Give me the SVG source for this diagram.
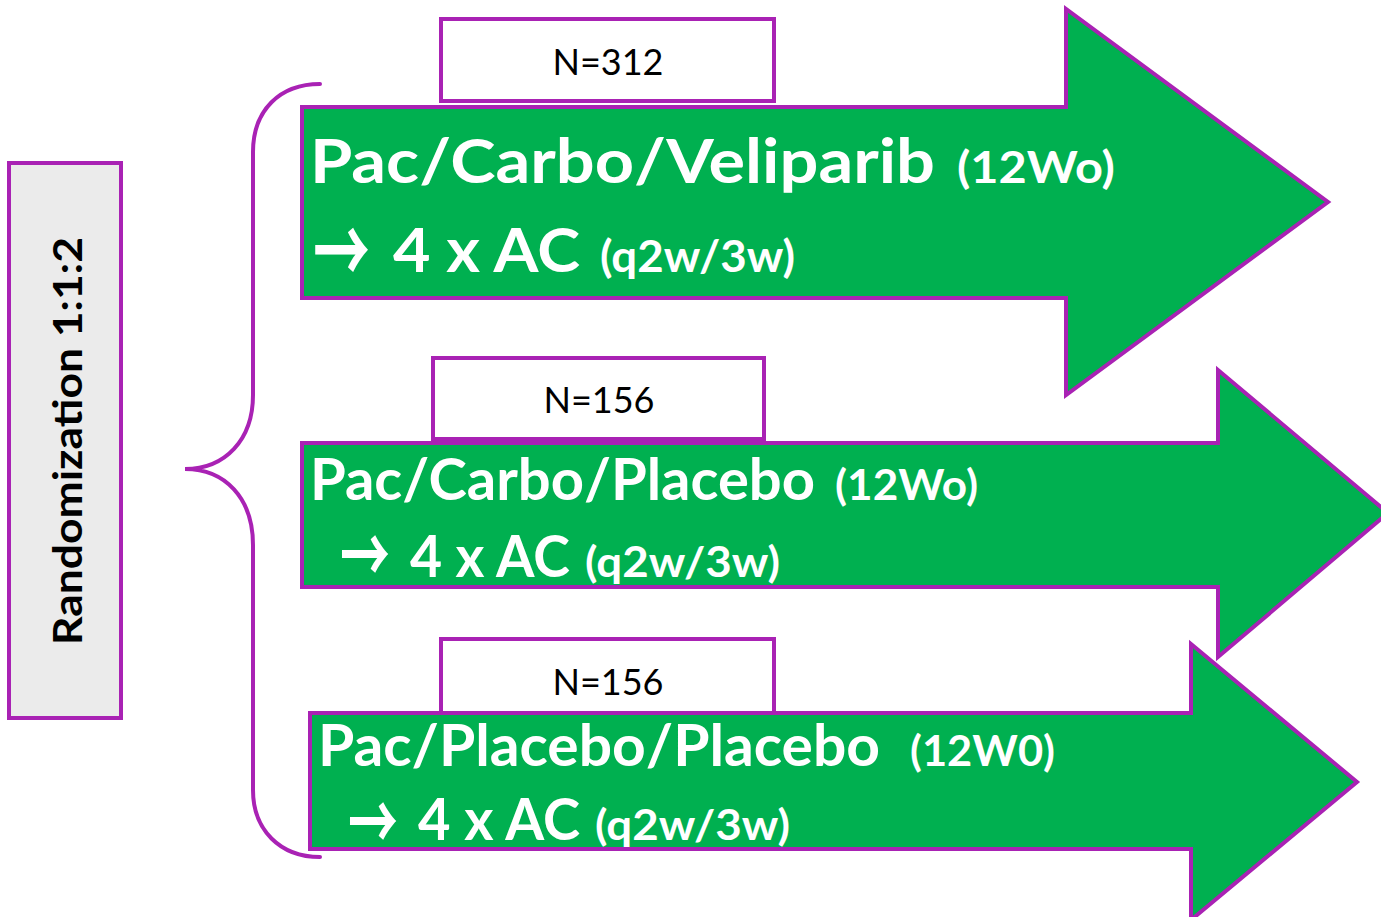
<svg xmlns="http://www.w3.org/2000/svg" width="1381" height="917" viewBox="0 0 1381 917">
  <style>
    .arm { fill: #00B050; stroke: #A922B4; stroke-width: 4; stroke-linejoin: miter; }
    .count { fill: #FFFFFF; stroke: #A922B4; stroke-width: 4; }
    .rand { fill: #EBEBEB; stroke: #A922B4; stroke-width: 4; }
    .brace { fill: none; stroke: #A922B4; stroke-width: 4; stroke-linecap: round; }
    .big { font-family: Lato, "Liberation Sans", sans-serif; font-weight: 700; fill: #FFFFFF; }
    .small { font-family: Lato, "Liberation Sans", sans-serif; font-weight: 700; fill: #FFFFFF; }
    .arrowglyph { font-family: "Noto Sans CJK SC", "DejaVu Sans", sans-serif; font-weight: 700; fill: #FFFFFF; }
    .n { font-family: Lato, "Liberation Sans", sans-serif; font-weight: 400; fill: #000000; font-size: 36px; }
    .rtext { font-family: Lato, "Liberation Sans", sans-serif; font-weight: 700; fill: #000000; font-size: 40px; }
  </style>

  <!-- randomization label -->
  <g id="randomization">
    <rect class="rand" x="9" y="163" width="112" height="555"/>
    <text class="rtext" transform="translate(82,441) rotate(-90)" text-anchor="middle" textLength="408" lengthAdjust="spacingAndGlyphs">Randomization 1:1:2</text>
  </g>

  <!-- brace joining the three arms -->
  <g id="connectors">
    <path class="brace" d="M320,84 C280,84 253,110 253,152 L253,395 C253,440 225,469 185,469 C225,469 253,498 253,545 L253,790 C253,830 280,857 320,857"/>
  </g>

  <!-- arm 1 -->
  <g id="arm1">
    <polygon class="arm" points="302,107 1066,107 1066,9 1328,202 1066,395 1066,298 302,298"/>
    <text class="big" x="310" y="183" font-size="62" textLength="625" lengthAdjust="spacingAndGlyphs">Pac/Carbo/Veliparib</text>
    <text class="small" x="957" y="183" font-size="44" textLength="158" lengthAdjust="spacingAndGlyphs">(12Wo)</text>
    <text class="arrowglyph" x="313" y="285" font-size="92" textLength="57" lengthAdjust="spacingAndGlyphs">→</text>
    <text class="big" x="393" y="272" font-size="62" textLength="187" lengthAdjust="spacingAndGlyphs">4 x AC</text>
    <text class="small" x="600" y="272" font-size="44" textLength="195" lengthAdjust="spacingAndGlyphs">(q2w/3w)</text>
  </g>
  <g id="count1">
    <rect class="count" x="441" y="19" width="333" height="82"/>
    <text class="n" x="608" y="75" text-anchor="middle">N=312</text>
  </g>

  <!-- arm 2 -->
  <g id="arm2">
    <polygon class="arm" points="302,443 1218,443 1218,370 1388,513 1218,657 1218,587 302,587"/>
    <text class="big" x="310" y="500" font-size="58" textLength="505" lengthAdjust="spacingAndGlyphs">Pac/Carbo/Placebo</text>
    <text class="small" x="835" y="500" font-size="42" textLength="143" lengthAdjust="spacingAndGlyphs">(12Wo)</text>
    <text class="arrowglyph" x="340" y="584" font-size="78" textLength="50" lengthAdjust="spacingAndGlyphs">→</text>
    <text class="big" x="410" y="577" font-size="58" textLength="160" lengthAdjust="spacingAndGlyphs">4 x AC</text>
    <text class="small" x="585" y="577" font-size="42" textLength="195" lengthAdjust="spacingAndGlyphs">(q2w/3w)</text>
  </g>
  <g id="count2">
    <rect class="count" x="433" y="358" width="331" height="81"/>
    <text class="n" x="599" y="413" text-anchor="middle">N=156</text>
  </g>

  <!-- arm 3 -->
  <g id="count3">
    <rect class="count" x="441" y="639" width="333" height="80"/>
    <text class="n" x="608" y="695" text-anchor="middle">N=156</text>
  </g>
  <g id="arm3">
    <polygon class="arm" points="310,713 1191,713 1191,644 1357,782 1191,920 1191,849 310,849"/>
    <text class="big" x="318" y="766" font-size="58" textLength="562" lengthAdjust="spacingAndGlyphs">Pac/Placebo/Placebo</text>
    <text class="small" x="910" y="766" font-size="42" textLength="145" lengthAdjust="spacingAndGlyphs">(12W0)</text>
    <text class="arrowglyph" x="348" y="851" font-size="78" textLength="50" lengthAdjust="spacingAndGlyphs">→</text>
    <text class="big" x="418" y="840" font-size="58" textLength="162" lengthAdjust="spacingAndGlyphs">4 x AC</text>
    <text class="small" x="595" y="840" font-size="42" textLength="195" lengthAdjust="spacingAndGlyphs">(q2w/3w)</text>
  </g>
</svg>
